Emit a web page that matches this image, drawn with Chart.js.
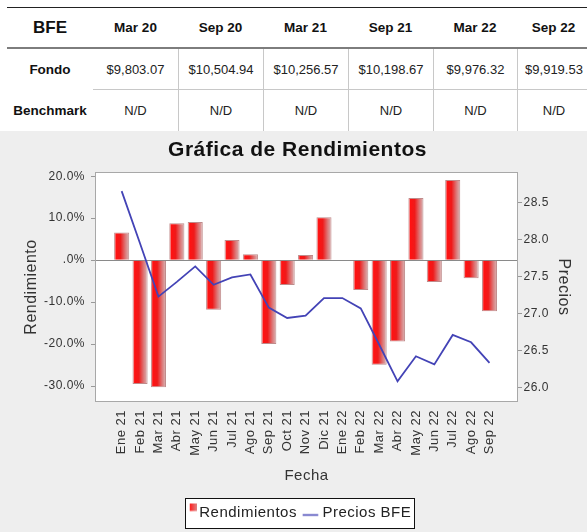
<!DOCTYPE html>
<html><head><meta charset="utf-8">
<script src="https://cdn.jsdelivr.net/npm/chart.js@4/dist/chart.umd.min.js"></script>
<style>
html,body{margin:0;padding:0;background:#fff;overflow:hidden;width:587px;height:532px;}
#tbl{position:absolute;left:7px;top:7px;width:583px;border-collapse:separate;border-spacing:0;table-layout:fixed;font-family:"Liberation Sans",Arial,sans-serif;color:#222;}
#tbl th,#tbl td{padding:0;text-align:center;white-space:nowrap;overflow:hidden;box-sizing:border-box;}
#tbl thead th{height:42px;border-top:1px solid #222;border-bottom:2px solid #7d7d7d;font-weight:bold;font-size:13.5px;color:#111;}
#tbl thead th.corner{font-size:17px;}
#tbl tbody th{height:41px;font-weight:bold;font-size:13.5px;color:#111;}
#tbl tbody td{height:41px;font-size:13px;}
#tbl tbody tr.r1 td{border-bottom:1px solid #c8c8c8;}
#tbl tbody td+td{border-left:1px solid #c8c8c8;}
#wrap{position:absolute;left:0;top:131px;width:587px;height:410px;background:#eeeeee;}
canvas{display:block;}
</style>
</head><body>
<table id="tbl">
<colgroup><col style="width:86px"><col style="width:85px"><col style="width:85px"><col style="width:85px"><col style="width:85px"><col style="width:84px"><col style="width:73px"></colgroup>
<thead></thead><tbody></tbody>
</table>
<div id="wrap"><canvas id="c" width="587" height="410"></canvas></div>
<script>
// ---- table data ----
const tablaTitulo = 'BFE';
const tablaPeriodos = ['Mar 20','Sep 20','Mar 21','Sep 21','Mar 22','Sep 22'];
const tablaFondo = ['$9,803.07','$10,504.94','$10,256.57','$10,198.67','$9,976.32','$9,919.53'];
const tablaBenchmark = ['N/D','N/D','N/D','N/D','N/D','N/D'];

// ---- chart data ----
const meses = ['Ene 21','Feb 21','Mar 21','Abr 21','May 21','Jun 21','Jul 21','Ago 21','Sep 21','Oct 21','Nov 21','Dic 21','Ene 22','Feb 22','Mar 22','Abr 22','May 22','Jun 22','Jul 22','Ago 22','Sep 22'];
const rendimientos = [6.6,-29.5,-30.3,8.8,9.1,-11.8,4.8,1.4,-20.0,-5.9,1.2,10.2,0,-7.1,-24.9,-19.4,14.8,-5.2,19.1,-4.3,-12.2];
const preciosBFE = [28.66,27.95,27.23,27.43,27.64,27.39,27.49,27.53,27.08,26.94,26.97,27.21,27.21,27.07,26.58,26.08,26.42,26.31,26.71,26.61,26.33];
const ticksRend = [-30,-20,-10,0,10,20];
const ticksRendLabels = ['-30.0%','-20.0%','-10.0%','.0%','10.0%','20.0%'];
const ticksPrecios = [26.0,26.5,27.0,27.5,28.0,28.5];

// build table
document.querySelector('#tbl thead').innerHTML =
  '<tr><th class="corner">' + tablaTitulo + '</th>' + tablaPeriodos.map(p => '<th>' + p + '</th>').join('') + '</tr>';
document.querySelector('#tbl tbody').innerHTML =
  '<tr class="r1"><th>Fondo</th>' + tablaFondo.map(v => '<td>' + v + '</td>').join('') + '</tr>' +
  '<tr class="r2"><th>Benchmark</th>' + tablaBenchmark.map(v => '<td>' + v + '</td>').join('') + '</tr>';

const LINE_COLOR = '#4343b6';
const BAR_PCT = 0.82;
const SPACING = '0.5px';

function barGradient(c) {
  const chart = c.chart, xs = chart.scales && chart.scales.x;
  if (!xs || c.dataIndex === undefined || !chart.chartArea) return '#ee1111';
  const step = xs.getPixelForValue(1) - xs.getPixelForValue(0);
  const cx = xs.getPixelForValue(c.dataIndex);
  const w = step * BAR_PCT;
  const g = chart.ctx.createLinearGradient(cx - w / 2, 0, cx + w / 2, 0);
  g.addColorStop(0, '#f2a4a4');
  g.addColorStop(0.14, '#ff1212');
  g.addColorStop(0.42, '#ef1a1a');
  g.addColorStop(0.75, '#dc7a7a');
  g.addColorStop(1, '#d9b8b8');
  return g;
}

function legendSquare() {
  const c = document.createElement('canvas'); c.width = 18; c.height = 20;
  const x = c.getContext('2d');
  const g = x.createLinearGradient(11, 0, 18, 0);
  g.addColorStop(0, '#ff1a1a'); g.addColorStop(1, '#e08080');
  x.fillStyle = g; x.fillRect(11, 1, 7, 7.5);
  return c;
}
function legendLine() {
  const c = document.createElement('canvas'); c.width = 18; c.height = 20;
  const x = c.getContext('2d');
  x.strokeStyle = LINE_COLOR; x.lineWidth = 1.5;
  x.beginPath(); x.moveTo(0.7, 12.5); x.lineTo(16.3, 12.5); x.stroke();
  return c;
}

const decor = {
  id: 'decor',
  beforeUpdate(chart) { chart.ctx.letterSpacing = SPACING; },
  beforeLayout(chart) { chart.ctx.letterSpacing = SPACING; },
  beforeDraw(chart) {
    const ctx = chart.ctx, a = chart.chartArea;
    ctx.letterSpacing = SPACING;
    ctx.save();
    ctx.fillStyle = '#ffffff';
    ctx.fillRect(a.left, a.top, a.right - a.left, a.bottom - a.top);
    const hb = chart.legend && chart.legend.legendHitBoxes;
    if (hb && hb.length) {
      const l = Math.round(Math.min(...hb.map(h => h.left)) + 1);
      const r = Math.round(Math.max(...hb.map(h => h.left + h.width)) + 4);
      const t = Math.round(hb[0].top - 7), b = Math.round(hb[0].top + hb[0].height + 9);
      ctx.fillStyle = '#ffffff'; ctx.fillRect(l, t, r - l, b - t);
      ctx.strokeStyle = '#111'; ctx.lineWidth = 1;
      ctx.strokeRect(l + 0.5, t + 0.5, r - l - 1, b - t - 1);
    }
    ctx.restore();
  },
  beforeDatasetsDraw(chart) {
    const ctx = chart.ctx, a = chart.chartArea;
    ctx.save();
    ctx.strokeStyle = '#a8a8a8'; ctx.lineWidth = 1;
    ctx.strokeRect(Math.round(a.left) + 0.5, Math.round(a.top) + 0.5, Math.round(a.right - a.left) - 1, Math.round(a.bottom - a.top) - 1);
    ctx.restore();
  }
};

Chart.defaults.font.family = '"Liberation Sans", Arial, sans-serif';
Chart.defaults.color = '#333';

new Chart(document.getElementById('c'), {
  data: {
    datasets: [
      {
        type: 'line', label: 'Precios BFE',
        data: preciosBFE.map((v, i) => ({ x: i, y: v })),
        yAxisID: 'y1', xAxisID: 'x', order: 1,
        borderColor: LINE_COLOR, backgroundColor: LINE_COLOR, borderWidth: 1.8,
        pointRadius: 0, tension: 0, fill: false,
        pointStyle: legendLine()
      },
      {
        type: 'bar', label: 'Rendimientos',
        data: rendimientos.map((v, i) => ({ x: i, y: v })),
        yAxisID: 'y', xAxisID: 'x', order: 2,
        backgroundColor: barGradient,
        borderColor: 'rgba(170,100,100,0.75)', borderWidth: 1,
        categoryPercentage: 1, barPercentage: BAR_PCT,
        pointStyle: legendSquare()
      }
    ]
  },
  options: {
    responsive: false, animation: false, events: [],
    layout: { padding: { left: 8, right: 0, top: 0, bottom: 11 } },
    plugins: {
      title: {
        display: true, text: 'Gráfica de Rendimientos', color: '#111',
        font: { size: 21, weight: 'bold' }, padding: { top: 7, bottom: 8.8 }
      },
      legend: {
        position: 'bottom', reverse: true,
        labels: { usePointStyle: true, boxWidth: 8, boxHeight: 8, padding: 10, font: { size: 15 }, color: '#222' }
      },
      tooltip: { enabled: false }
    },
    scales: {
      x: {
        type: 'linear', position: 'bottom', min: -1.45, max: 21.55, offset: false,
        afterBuildTicks: s => { s.ticks = meses.map((m, i) => ({ value: i })); },
        afterFit: s => { s.height = 93; },
        ticks: { autoSkip: false, minRotation: 90, maxRotation: 90, padding: 8, font: { size: 13 }, color: '#333',
                 callback: v => meses[v] },
        grid: { display: false, drawTicks: false, offset: false },
        border: { display: false },
        title: { display: true, text: 'Fecha', font: { size: 15 }, color: '#333', padding: { top: 0, bottom: 10.2 } }
      },
      y: {
        type: 'linear', position: 'left', min: -33.8, max: 21.0,
        afterBuildTicks: s => { s.ticks = ticksRend.map(v => ({ value: v })); },
        afterFit: s => { s.width = 87; },
        ticks: { padding: 6, font: { size: 12 }, color: '#333',
                 callback: v => ticksRendLabels[ticksRend.indexOf(v)] },
        grid: { color: c => (c.tick && c.tick.value === 0) ? '#8a8a8a' : 'rgba(0,0,0,0)', tickColor: '#999', tickLength: 4, lineWidth: 1 },
        border: { display: false },
        title: { display: true, text: 'Rendimiento', font: { size: 16 }, color: '#333', padding: { top: 14.4, bottom: 0 } }
      },
      y1: {
        type: 'linear', position: 'right', min: 25.80, max: 28.92,
        afterBuildTicks: s => { s.ticks = ticksPrecios.map(v => ({ value: v })); },
        afterFit: s => { s.width = 69; },
        ticks: { padding: 1.5, font: { size: 12 }, color: '#333', callback: v => Number(v).toFixed(1) },
        grid: { drawOnChartArea: false, tickColor: '#999', tickLength: 4 },
        border: { display: false },
        title: { display: true, text: 'Precios', font: { size: 16 }, color: '#333', padding: { top: 14.4, bottom: 0 } }
      }
    }
  },
  plugins: [decor]
});
</script>
</body></html>
